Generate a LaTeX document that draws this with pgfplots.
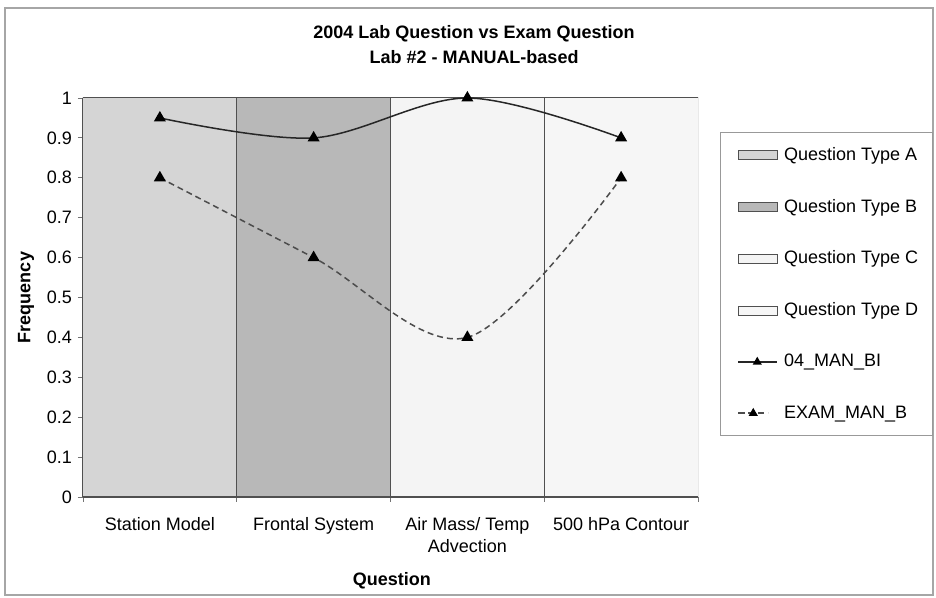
\documentclass[border=0pt]{standalone}
\usepackage{pgfplots}
\pgfplotsset{compat=1.18}
\usepackage{fontspec}
\setmainfont{Liberation Sans}
\definecolor{colA}{HTML}{D5D5D5}
\definecolor{colB}{HTML}{B8B8B8}
\definecolor{colC}{HTML}{F4F4F4}
\definecolor{colD}{HTML}{F6F6F6}
\definecolor{edge}{HTML}{505050}
\pgfplotsset{
  barleg/.style={legend image code/.code={\path (0bp,0bp) (48bp,0bp); \draw[##1, line width=1bp] (5bp,-4.5bp) rectangle (44bp,4.5bp);}},
  lineleg/.style={legend image code/.code={\path (0bp,0bp) (48bp,0bp); \draw[##1, mark repeat=2, mark phase=2, mark size=3.8bp] plot coordinates {(5bp,0bp)(24bp,0bp)(43bp,0bp)};}},
  dashleg/.style={legend image code/.code={\path (0bp,0bp) (48bp,0bp); \draw[##1, mark repeat=2, mark phase=2, mark size=3.8bp] plot coordinates {(5bp,0bp)(20bp,0bp)(35bp,0bp)};}},
}
\begin{document}
\fontsize{18bp}{21bp}\selectfont
\begin{tikzpicture}
\path[use as bounding box] (0,0) rectangle (936bp,598bp);
\fill[white] (0,0) rectangle (936bp,598bp);
\draw[black!35, line width=1.2bp] (5bp,3bp) rectangle (933bp,590bp);
\begin{axis}[
  at={(83bp,101bp)}, anchor=south west,
  scale only axis, width=615bp, height=399bp,
  xmin=-0.5, xmax=3.5, ymin=0, ymax=1,
  axis x line*=bottom, axis y line*=left,
  axis line style={draw=edge, line width=1.2bp},
  tick align=outside, major tick length=5bp,
  tick style={draw=black!55, line width=0.8bp},
  xtick={-0.5,0.5,1.5,2.5,3.5},
  x tick label as interval,
  xticklabels={Station Model, Frontal System, {Air Mass/ Temp\\Advection}, 500 hPa Contour},
  xticklabel style={align=center, font=\fontsize{18bp}{22bp}\selectfont, yshift=-9bp},
  ytick={0,0.1,0.2,0.3,0.4,0.5,0.6,0.7,0.8,0.9,1},
  yticklabel style={/pgf/number format/fixed, /pgf/number format/precision=1,
    /pgf/number format/assume math mode=true, font=\fontsize{18bp}{21bp}\selectfont},
  xlabel={Question}, ylabel={Frequency},
  every axis x label/.style={at={(axis description cs:0.5024,-0.2105)}, anchor=center,
    font=\fontsize{18bp}{21bp}\selectfont\bfseries},
  every axis y label/.style={at={(axis description cs:-0.0927,0.5)}, anchor=center, rotate=90,
    font=\fontsize{18bp}{21bp}\selectfont\bfseries},
  title={2004 Lab Question vs Exam Question\\Lab \#2 - MANUAL-based},
  title style={at={(axis description cs:0.6358,1.119)}, anchor=center, align=center,
    font=\fontsize{18bp}{25bp}\selectfont\bfseries},
  legend style={at={(1.0358,0.915)}, anchor=north west, draw=black!40, line width=1bp,
    fill=white, inner xsep=12bp, inner ysep=13bp, row sep=32bp,
    nodes={inner sep=2bp}, font=\fontsize{18bp}{21bp}\selectfont},
  legend cell align=left,
]
\addplot[ybar, bar width=1, bar shift=0pt, fill=colA, draw=edge, line width=1bp, barleg]
  coordinates {(0,1)};
\addlegendentry{Question Type A}
\addplot[ybar, bar width=1, bar shift=0pt, fill=colB, draw=edge, line width=1bp, barleg]
  coordinates {(1,1)};
\addlegendentry{Question Type B}
\addplot[ybar, bar width=1, bar shift=0pt, fill=colC, draw=edge, line width=1bp, barleg]
  coordinates {(2,1)};
\addlegendentry{Question Type C}
\addplot[ybar, bar width=1, bar shift=0pt, fill=colD, draw=edge, line width=1bp, barleg]
  coordinates {(3,1)};
\addlegendentry{Question Type D}
\addplot[smooth, tension=0.55, black!85, line width=1.5bp, mark=triangle*, mark size=5.5bp,
  mark options={solid, fill=black, draw=black}, lineleg]
  coordinates {(0,0.95) (1,0.9) (2,1.0) (3,0.9)};
\addlegendentry{04\_MAN\_BI}
\addplot[smooth, tension=0.55, black!70, line width=1.5bp, dash pattern=on 6bp off 4bp,
  mark=triangle*, mark size=5.5bp, mark options={solid, fill=black, draw=black}, dashleg]
  coordinates {(0,0.8) (1,0.6) (2,0.4) (3,0.8)};
\addlegendentry{EXAM\_MAN\_B}
\end{axis}
\end{tikzpicture}
\end{document}
